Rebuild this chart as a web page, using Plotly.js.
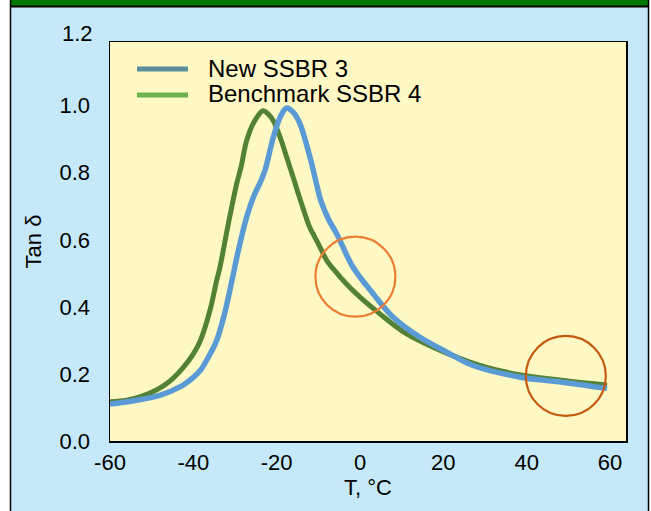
<!DOCTYPE html>
<html>
<head>
<meta charset="utf-8">
<script src="https://cdn.plot.ly/plotly-3.0.1.min.js"></script>
<style>html,body{margin:0;padding:0;background:#fff;}#chart{width:651px;height:511px;}</style>
</head>
<body>
<div id="chart"></div>
<script>
// Benchmark SSBR 4 (green)
const benchT = [-60, -56, -52.7, -50, -47.1, -45, -42.3, -40, -38.3, -36, -34.4, -33.6, -31.6, -29.6, -28.5, -27.2, -25.5, -23.3, -22, -20.8, -19, -17.6, -16, -14.4, -12, -11, -9.6, -8, -5.5, -3.3, 0, 4.7, 11.1, 19.1, 28.6, 38.2, 49.4, 59.3];
const benchTan = [0.117, 0.122, 0.132, 0.145, 0.165, 0.185, 0.221, 0.26, 0.30, 0.39, 0.479, 0.519, 0.648, 0.767, 0.82, 0.896, 0.95, 0.985, 0.975, 0.955, 0.90, 0.846, 0.785, 0.722, 0.635, 0.612, 0.578, 0.539, 0.50, 0.469, 0.429, 0.38, 0.32, 0.271, 0.226, 0.198, 0.18, 0.167];
// New SSBR 3 (blue)
const newT = [-60, -54.3, -47.9, -43.1, -40, -38.3, -36.4, -34.4, -32.5, -30.8, -29.2, -27.2, -25.6, -24, -22.8, -20.8, -19, -17.6, -16, -14.4, -12, -10.5, -9.4, -7.5, -5.6, -1.7, 3.1, 7.9, 14.3, 20.7, 27, 38.2, 49.4, 59.3];
const newTan = [0.110, 0.12, 0.137, 0.162, 0.19, 0.211, 0.25, 0.30, 0.38, 0.475, 0.568, 0.668, 0.727, 0.77, 0.807, 0.906, 0.97, 0.993, 0.98, 0.946, 0.846, 0.77, 0.717, 0.66, 0.618, 0.519, 0.44, 0.37, 0.31, 0.266, 0.226, 0.191, 0.174, 0.157];

const seriesNames = ['New SSBR 3', 'Benchmark SSBR 4'];
const xTicks = [-60, -40, -20, 0, 20, 40, 60];
const xTickText = ['-60', '-40', '-20', '0', '20', '40', '60'];
const yTicks = [0, 0.2, 0.4, 0.6, 0.8, 1.0, 1.2];
const yTickText = ['0.0', '0.2', '0.4', '0.6', '0.8', '1.0', '1.2'];
// highlighted regions (centre T, centre tan delta)
const circleT = [-1.1, 49.4];
const circleTan = [0.49, 0.194];

const font = 'Liberation Sans, Arial, Helvetica, sans-serif';

const traces = [
  {x: benchT, y: benchTan, type: 'scatter', mode: 'lines', name: seriesNames[1], showlegend: false,
   line: {color: '#548235', width: 5, shape: 'spline', smoothing: 1}},
  {x: newT, y: newTan, type: 'scatter', mode: 'lines', name: seriesNames[0], showlegend: false,
   line: {color: '#5b9bd5', width: 5.5, shape: 'spline', smoothing: 1}}
];

const L = 110, R = 25, T = 42, B = 70, W = 651, H = 511;
const pw = W - L - R, ph = H - T - B;
const px = v => (v - L) / pw;
const py = v => (H - B - v) / ph;

const shapes = [
  // frame
  {type: 'rect', xref: 'paper', yref: 'paper', x0: px(0), x1: px(10), y0: py(H), y1: py(0), fillcolor: '#ffffff', line: {width: 0}, layer: 'below'},
  {type: 'rect', xref: 'paper', yref: 'paper', x0: px(649), x1: px(W), y0: py(H), y1: py(0), fillcolor: '#ffffff', line: {width: 0}, layer: 'below'},
  {type: 'rect', xref: 'paper', yref: 'paper', x0: px(10), x1: px(649), y0: py(6), y1: py(-2), fillcolor: '#007700', line: {width: 0}, layer: 'below'},
  {type: 'line', xref: 'paper', yref: 'paper', x0: px(10), x1: px(649), y0: py(6.5), y1: py(6.5), line: {color: '#000', width: 2}},
  {type: 'line', xref: 'paper', yref: 'paper', x0: px(10.5), x1: px(10.5), y0: py(0), y1: py(H), line: {color: '#000', width: 1.5}},
  {type: 'line', xref: 'paper', yref: 'paper', x0: px(648.5), x1: px(648.5), y0: py(0), y1: py(H), line: {color: '#000', width: 1.5}},
  // legend samples
  {type: 'line', xref: 'paper', yref: 'paper', x0: px(137), x1: px(188), y0: py(69), y1: py(69), line: {color: '#5a8e9c', width: 5}},
  {type: 'line', xref: 'paper', yref: 'paper', x0: px(137), x1: px(188), y0: py(95), y1: py(95), line: {color: '#6ab24e', width: 5}}
];
const circleColors = ['#ed7d31', '#c55a11'];
circleT.forEach((c, i) => {
  shapes.push({type: 'circle', xref: 'x', yref: 'y', xsizemode: 'pixel', ysizemode: 'pixel',
    xanchor: c, yanchor: circleTan[i], x0: -40, x1: 40, y0: -40, y1: 40,
    line: {color: circleColors[i], width: 2.2}});
});

const annotations = [
  {xref: 'paper', yref: 'paper', x: px(206), y: py(68), xanchor: 'left', yanchor: 'middle', text: seriesNames[0], showarrow: false, font: {family: font, size: 24, color: '#000'}},
  {xref: 'paper', yref: 'paper', x: px(206), y: py(93), xanchor: 'left', yanchor: 'middle', text: seriesNames[1], showarrow: false, font: {family: font, size: 24, color: '#000'}},
  {xref: 'paper', yref: 'paper', x: px(95), y: py(33), xanchor: 'right', yanchor: 'middle', text: yTickText[6], showarrow: false, font: {family: font, size: 22, color: '#000'}}
];

const layout = {
  width: W, height: H,
  margin: {l: L, r: R, t: T, b: B, pad: 0},
  paper_bgcolor: '#c6e9f9',
  plot_bgcolor: '#fef8c4',
  showlegend: false,
  font: {family: font, size: 22, color: '#000'},
  xaxis: {
    range: [-60, 63.84], tickvals: xTicks, ticktext: xTickText,
    showgrid: false, zeroline: false, showline: true, mirror: true, linecolor: '#000', linewidth: 1.5,
    ticks: 'outside', ticklen: 1, tickcolor: 'rgba(0,0,0,0)',
    title: {text: 'T, °C', standoff: 1, font: {family: font, size: 22}},
    tickfont: {family: font, size: 22}, automargin: false
  },
  yaxis: {
    range: [0, 1.19], tickvals: yTicks, ticktext: yTickText,
    showgrid: false, zeroline: false, showline: true, mirror: true, linecolor: '#000', linewidth: 1.5,
    ticks: 'outside', ticklen: 14, tickcolor: 'rgba(0,0,0,0)',
    title: {text: 'Tan δ', standoff: 12, font: {family: font, size: 22}},
    tickfont: {family: font, size: 22}, automargin: false
  },
  shapes: shapes,
  annotations: annotations
};

Plotly.newPlot('chart', traces, layout, {displayModeBar: false, staticPlot: true});
</script>
</body>
</html>
